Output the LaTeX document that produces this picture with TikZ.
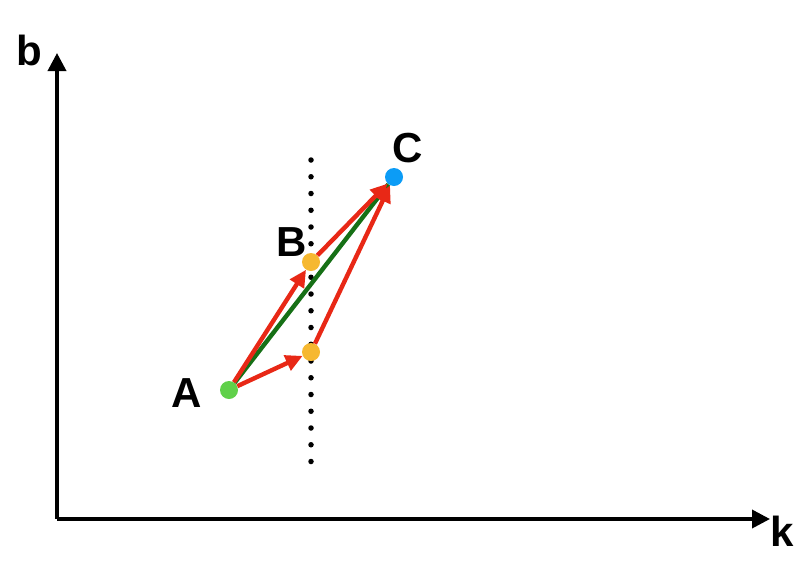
\documentclass[tikz,border=0pt]{standalone}
\usepackage{fontspec}
\setmainfont{Liberation Sans}
\usetikzlibrary{arrows.meta}

\definecolor{vermelho}{RGB}{232,40,22}
\definecolor{verde}{RGB}{22,112,22}
\definecolor{verdeclaro}{RGB}{96,208,74}
\definecolor{laranja}{RGB}{246,184,48}
\definecolor{azul}{RGB}{12,156,246}

\tikzset{
    ponto/.style={circle, inner sep=0pt, minimum size=18pt},
    rotulo/.style={font=\fontsize{42}{50}\selectfont\bfseries, inner sep=0pt},
    eixo/.style={line width=3.6pt, -{Triangle[length=18pt, width=18pt]}},
    seta/.style={vermelho, line width=4.4pt, -{Triangle[length=17pt, width=16pt]}}
}

\begin{document}
\begin{tikzpicture}[x=1pt, y=-1pt]

    \useasboundingbox (0,0) rectangle (805,560);

    % eixos
    \coordinate (origem) at (57,519);
    \coordinate (topo) at (57,53);
    \coordinate (fim) at (770,519);

    \draw[eixo] (origem) -- (topo);
    \draw[eixo] (origem) -- (fim);

    \node[rotulo] (lb) at (29,50) {b};
    \node[rotulo] (lk) at (782,531) {k};

    % linha pontilhada
    \coordinate (pont1) at (311,160);
    \coordinate (pont2) at (311,463);
    \draw[line width=5.5pt, line cap=round, dash pattern=on 0pt off 16.75pt]
        (pont1) -- (pont2);

    % pontos
    \node[ponto, fill=verdeclaro] (a) at (229,390) {};
    \node[ponto, fill=laranja] (b) at (311,262) {};
    \node[ponto, fill=laranja] (b2) at (311,352) {};
    \node[ponto, fill=azul] (c) at (394,177) {};

    \node[rotulo] (la) at (187,393) {A};
    \node[rotulo] (lb2) at (292,242) {B};
    \node[rotulo] (lc) at (408,148) {C};

    \draw[verde, line width=4.4pt] (a) -- (c);

    \draw[seta] (a) -- (b);
    \draw[seta] (b) -- (c);
    \draw[seta] (a) -- (b2);
    \draw[seta] (b2) -- (c);

\end{tikzpicture}
\end{document}
